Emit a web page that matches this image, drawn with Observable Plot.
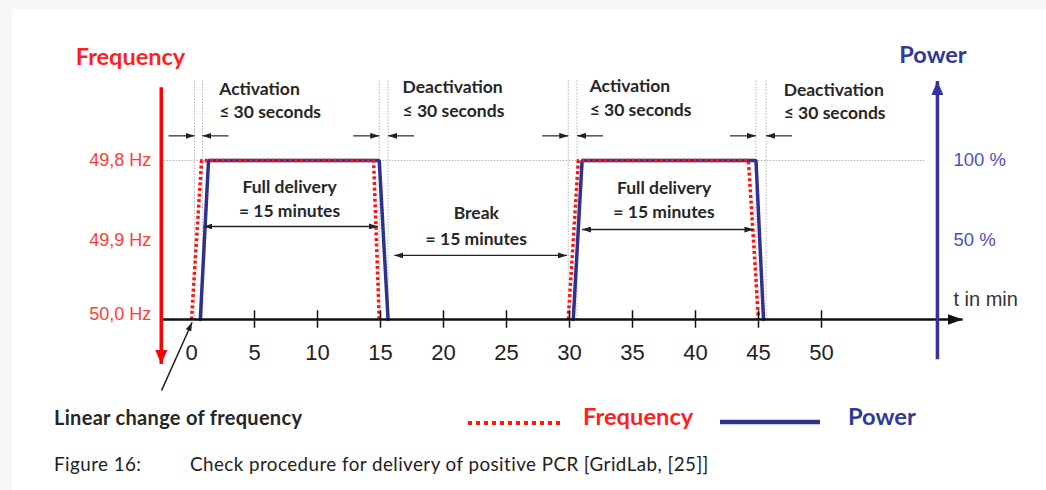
<!DOCTYPE html>
<html><head><meta charset="utf-8">
<script src="https://cdn.jsdelivr.net/npm/d3@7"></script>
<script src="https://cdn.jsdelivr.net/npm/@observablehq/plot@0.6"></script>
<style>
html,body{margin:0;padding:0;background:#f5f7f7;width:1046px;height:490px;overflow:hidden;}
#sheet{position:absolute;left:12px;top:9px;width:1034px;height:481px;background:#fff;}
#chart{position:absolute;left:0;top:0;}
.lbl{position:absolute;white-space:nowrap;line-height:1;}
.cal{font-family:Lato,'Open Sans',sans-serif;}
</style></head>
<body>
<div id="sheet"></div>
<div id="chart"></div>
<div class="lbl cal" id="linear" style="left:54px;top:407px;font-size:20px;letter-spacing:0.3px;font-weight:700;color:#262626;">Linear change of frequency</div>
<svg class="lbl" style="left:466px;top:417px" width="100" height="12"><line x1="2" x2="98" y1="6" y2="6" stroke="#ff1414" stroke-width="4" stroke-dasharray="4,4"/></svg>
<div class="lbl cal" style="left:583px;top:405px;font-size:23.7px;font-weight:700;color:#ff1f1f;">Frequency</div>
<svg class="lbl" style="left:718px;top:416px" width="104" height="12"><line x1="2" x2="102" y1="6" y2="6" stroke="#2e3192" stroke-width="4.5"/></svg>
<div class="lbl cal" style="left:848px;top:405px;font-size:23.7px;font-weight:700;color:#2f3a96;">Power</div>
<div class="lbl cal" style="left:54px;top:455px;font-size:18.8px;letter-spacing:0.45px;color:#222;">Figure 16:</div>
<div class="lbl cal" style="left:190px;top:455px;font-size:18.8px;letter-spacing:0.45px;color:#222;">Check procedure for delivery of positive PCR [GridLab, [25]]</div>
<script>
// ---- data ----
const xTicks = [0, 5, 10, 15, 20, 25, 30, 35, 40, 45, 50];
const freqTime  = [0, 0.8, 14.45, 14.9, 29.9, 30.7, 44.2, 45.0];
const freqLevel = [0, 100, 100, 0, 0, 100, 100, 0];
const freqPulse = [1, 1, 1, 1, 2, 2, 2, 2];
const powerTime  = [0.7, 1.35, 14.9, 15.6, 30.3, 31.0, 44.8, 45.4];
const powerLevel = [0, 100, 100, 0, 0, 100, 100, 0];
const powerPulse = [1, 1, 1, 1, 2, 2, 2, 2];
const freqLabels = ["49,8 Hz", "49,9 Hz", "50,0 Hz"];
const freqLabelLevel = [100, 50, 3];
const powerLabels = ["100 %", "50 %"];
const powerLabelLevel = [100, 50];
const guideTimes = [0.24, 0.87, 14.9, 15.6, 29.9, 30.6, 44.8, 45.6];
const phaseNames = ["Activation", "Deactivation", "Activation", "Deactivation"];
const phaseLimit = "≤ 30 seconds";
const phaseTextTime = [2.2, 16.75, 31.6, 47.0];
const phaseLine1 = [144.7, 146, 146.5, 144];
const phaseLine2 = [130, 131, 131.5, 129.5];
const secondsArrowLevel = 115.5;
const secondsArrowLength = 2.06;
const spanStart = [0.95, 16.1, 31.0];
const spanEnd   = [14.8, 29.8, 44.6];
const spanLevel = [58.5, 40.3, 56.6];
const spanTitle = ["Full delivery", "Break", "Full delivery"];
const spanSub   = ["= 15 minutes", "= 15 minutes", "= 15 minutes"];
const spanTextTime = [7.78, 22.6, 37.5];
const spanTitleLevel = [83, 66.7, 82.4];
const spanSubLevel = [67.9, 50.3, 67.3];
const freqAxis = {t: -2.4, top: 146, bottom: -28};
const powerAxis = {t: 59.2, top: 150, bottom: -25};
const timeAxis = {from: -2.4, to: 61.2};
const fullLineEnd = 58.3;
const titles = [{text: "Frequency", t: -4.84, v: 164.8, color: "#ff1f1f"}, {text: "Power", t: 58.85, v: 166, color: "#2f3a96"}];
const timeUnit = "t in min";
const linearArrow = {t1: -2.38, v1: -44.7, t2: 0.05, v2: -1.7};

// ---- build tables ----
const freqData = freqTime.map((t, i) => ({t, v: freqLevel[i], p: freqPulse[i]}));
const powerData = powerTime.map((t, i) => ({t, v: powerLevel[i], p: powerPulse[i]}));
const secSegs = [];
for (let k = 0; k < guideTimes.length; k += 2) {
  secSegs.push({x1: guideTimes[k] - secondsArrowLength, x2: guideTimes[k]});
  secSegs.push({x1: guideTimes[k + 1] + secondsArrowLength, x2: guideTimes[k + 1]});
}
const spans = spanStart.map((s, i) => ({s, e: spanEnd[i], v: spanLevel[i]}));

const NS = "http://www.w3.org/2000/svg";
function tri(len, wid) {
  return (color, context) => {
    const doc = (context && context.document) || document;
    const m = doc.createElementNS(NS, "marker");
    m.setAttribute("viewBox", `${-len} ${-wid / 2} ${len} ${wid}`);
    m.setAttribute("markerWidth", len);
    m.setAttribute("markerHeight", wid);
    m.setAttribute("markerUnits", "userSpaceOnUse");
    m.setAttribute("orient", "auto-start-reverse");
    m.setAttribute("refX", 0);
    m.setAttribute("refY", 0);
    const p = doc.createElementNS(NS, "path");
    p.setAttribute("d", `M${-len},${-wid / 2}L0,0L${-len},${wid / 2}Z`);
    p.setAttribute("fill", color);
    p.setAttribute("stroke", "none");
    m.appendChild(p);
    return m;
  };
}
const CAL = "Lato, 'Open Sans', sans-serif";
const ARIAL = "'Liberation Sans', Arial, sans-serif";
const ink = "#262626";
const grid = "#b4b4b4";
const annSize = 17.5;

const chart = Plot.plot({
  width: 1046, height: 400, margin: 0,
  x: {domain: [0, 50], range: [191, 821], axis: null},
  y: {domain: [0, 100], range: [319, 160], axis: null},
  style: {background: "transparent", overflow: "visible"},
  marks: [
    Plot.ruleY([100], {x1: freqAxis.t, x2: fullLineEnd, stroke: grid, strokeWidth: 1, strokeDasharray: "1.5,1.5"}),
    Plot.ruleX(guideTimes, {y1: 0, y2: 150, stroke: grid, strokeWidth: 1, strokeDasharray: "1.5,1.5"}),
    Plot.line(powerData, {x: "t", y: "v", z: "p", stroke: "#2e3192", strokeWidth: 3.5, strokeLinejoin: "miter"}),
    Plot.line(freqData, {x: "t", y: "v", z: "p", stroke: "#ff1414", strokeWidth: 3.5, strokeLinecap: "butt", strokeDasharray: "3,2.6"}),
    // time axis
    Plot.link([timeAxis], {x1: "from", x2: "to", y1: 0, y2: 0, stroke: "#111", strokeWidth: 2.5, markerEnd: tri(15, 11)}),
    Plot.ruleX(xTicks.filter(d => d > 0), {y1: -5.5, y2: 5.5, stroke: "#111", strokeWidth: 1.5}),
    Plot.text(xTicks, {x: d => d, y: 0, dy: 33, text: d => String(d), fontSize: 22, fontFamily: ARIAL, fill: "#222"}),
    Plot.text([timeUnit], {x: powerAxis.t, y: 0, dx: 16, dy: -20, text: d => d, textAnchor: "start", fontSize: 20, fontFamily: ARIAL, fill: "#333"}),
    // frequency axis
    Plot.link([freqAxis], {x1: "t", x2: "t", y1: "top", y2: "bottom", stroke: "#ff0000", strokeWidth: 3.5, markerEnd: tri(14, 12)}),
    Plot.text(freqLabels, {x: freqAxis.t, y: (d, i) => freqLabelLevel[i], dx: -10, text: d => d, textAnchor: "end", fontSize: 18, fontFamily: ARIAL, fill: "#ff3b3b"}),
    // power axis
    Plot.link([powerAxis], {x1: "t", x2: "t", y1: "bottom", y2: "top", stroke: "#3333a0", strokeWidth: 3.5, markerEnd: tri(14, 12)}),
    Plot.text(powerLabels, {x: powerAxis.t, y: (d, i) => powerLabelLevel[i], dx: 16, text: d => d, textAnchor: "start", fontSize: 18.5, fontFamily: ARIAL, fill: "#5050b4"}),
    // titles
    Plot.text(titles, {x: "t", y: "v", text: "text", fill: "color", fontSize: 23.5, fontWeight: 700, fontFamily: CAL}),
    // phase annotations
    Plot.link(secSegs, {x1: "x1", x2: "x2", y1: secondsArrowLevel, y2: secondsArrowLevel, stroke: "#222", strokeWidth: 1.2, markerEnd: tri(9, 6)}),
    Plot.text(phaseNames, {x: (d, i) => phaseTextTime[i], y: (d, i) => phaseLine1[i], text: d => d, textAnchor: "start", fontSize: annSize, fontWeight: 700, fontFamily: CAL, fill: ink}),
    Plot.text(phaseNames, {x: (d, i) => phaseTextTime[i], y: (d, i) => phaseLine2[i], text: () => phaseLimit, textAnchor: "start", fontSize: annSize, fontWeight: 700, fontFamily: CAL, fill: ink}),
    // spans
    Plot.link(spans, {x1: "s", x2: "e", y1: "v", y2: "v", stroke: "#222", strokeWidth: 1.3, markerStart: tri(9, 6), markerEnd: tri(9, 6)}),
    Plot.text(spanTitle, {x: (d, i) => spanTextTime[i], y: (d, i) => spanTitleLevel[i], text: d => d, fontSize: annSize, fontWeight: 700, fontFamily: CAL, fill: ink}),
    Plot.text(spanSub, {x: (d, i) => spanTextTime[i], y: (d, i) => spanSubLevel[i], text: d => d, fontSize: annSize, fontWeight: 700, fontFamily: CAL, fill: ink}),
    // linear change arrow
    Plot.link([linearArrow], {x1: "t1", y1: "v1", x2: "t2", y2: "v2", stroke: "#222", strokeWidth: 1.5, markerEnd: tri(9, 6)})
  ]
});
document.getElementById("chart").appendChild(chart);
</script>
</body></html>
